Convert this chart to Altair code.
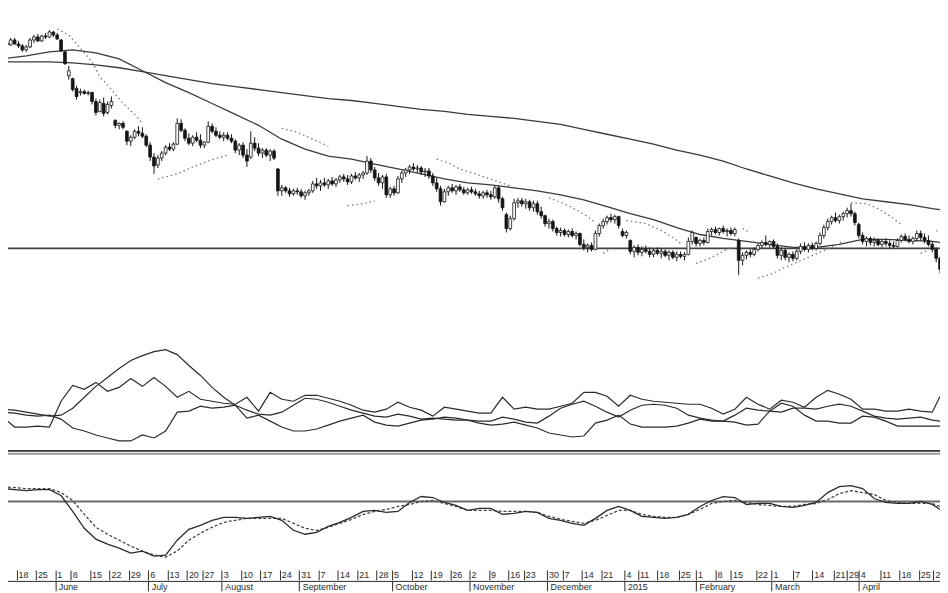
import altair as alt
import pandas as pd

# ---------------- price candles (one per trading day) ----------------
opens = [
    45.6, 45.9, 45.7, 46.2, 45.8, 45.6, 45.2, 45.5, 46.2, 46.5,
    46.1, 46.6, 46.5, 47.0, 46.7, 46.2, 45.0, 42.6, 42.3, 41.3,
    40.9, 41.0, 40.8, 40.9, 40.0, 39.0, 39.8, 38.9, 39.6, 38.1,
    37.6, 37.8, 37.0, 36.0, 36.4, 37.0, 36.8, 36.5, 35.6, 34.4,
    33.6, 34.3, 34.8, 35.4, 35.2, 35.7, 37.8, 37.1, 36.3, 35.8,
    36.4, 36.1, 35.6, 35.9, 37.5, 37.0, 36.6, 36.4, 36.6, 36.3,
    36.0, 35.1, 35.6, 34.6, 34.4, 35.8, 35.3, 34.8, 35.1, 34.6,
    35.0, 33.2, 31.0, 31.3, 31.0, 30.7, 31.0, 30.9, 30.5, 30.8,
    31.0, 31.7, 31.5, 31.8, 31.6, 32.0, 31.7, 32.1, 32.4, 32.2,
    31.9, 32.5, 32.3, 32.6, 32.8, 34.0, 33.1, 32.3, 31.8, 32.4,
    30.6, 31.2, 30.8, 32.2, 32.8, 33.1, 33.4, 33.2, 33.3, 32.9,
    33.0, 32.5, 31.8, 31.2, 29.9, 30.9, 31.3, 31.0, 31.4, 31.1,
    30.8, 31.1, 30.9, 30.7, 30.5, 30.8, 30.6, 30.4, 31.3, 30.2,
    28.6, 27.2, 28.2, 29.8, 30.0, 29.7, 29.9, 29.3, 29.7, 28.9,
    28.5, 27.7, 27.9, 27.2, 26.8, 27.0, 26.6, 26.9, 26.5, 26.7,
    25.6, 25.3, 25.5, 25.1, 26.7, 27.5, 27.9, 28.3, 28.1, 28.4,
    26.9, 26.5, 26.0, 24.9, 25.3, 24.8, 25.1, 24.9, 24.6, 25.0,
    24.7, 24.9, 24.5, 24.8, 24.3, 24.6, 24.4, 24.6, 25.9, 26.3,
    25.7, 26.0, 25.8, 26.9, 27.1, 26.8, 27.2, 26.9, 27.0, 26.7,
    26.0, 24.0, 24.5, 24.8, 24.6, 25.1, 25.5, 25.8, 25.6, 25.9,
    25.4, 24.5, 25.0, 24.3, 24.6, 24.2, 24.9, 25.4, 25.1, 25.5,
    25.2, 25.7, 26.5, 27.3, 27.9, 28.3, 28.0, 28.4, 28.7, 29.0,
    28.7, 27.6, 26.5, 25.9, 26.2, 25.8, 26.0, 25.6, 25.9, 25.7,
    25.5, 25.4, 26.0, 26.4, 26.1, 25.9, 26.2, 26.7, 26.3, 26.0,
    25.6, 25.1, 24.2,
]
highs = [
    46.2, 46.3, 46.4, 46.4, 46.1, 45.8, 45.7, 46.4, 46.7, 46.8,
    46.7, 46.9, 47.2, 47.1, 46.9, 46.3, 45.1, 43.6, 42.4, 41.6,
    41.3, 41.2, 41.1, 41.0, 40.3, 40.2, 40.4, 40.0, 40.5, 38.2,
    37.9, 38.0, 37.1, 36.6, 37.2, 37.5, 37.4, 36.7, 35.9, 34.8,
    34.6, 35.0, 35.6, 35.8, 35.9, 38.3, 38.2, 37.3, 36.8, 36.6,
    36.9, 36.7, 36.0, 38.0, 37.8, 37.4, 37.0, 36.9, 36.9, 36.7,
    36.2, 35.8, 35.9, 35.2, 37.0, 36.4, 35.8, 35.3, 35.3, 35.2,
    35.2, 33.3, 31.6, 31.5, 31.3, 31.2, 31.3, 31.2, 31.0, 31.2,
    32.0, 32.3, 32.1, 32.3, 32.2, 32.4, 32.3, 32.6, 32.7, 32.6,
    32.7, 32.9, 32.8, 33.0, 34.5, 34.3, 33.4, 32.8, 32.6, 32.7,
    31.4, 31.5, 32.5, 33.0, 33.3, 33.6, 33.8, 33.6, 33.5, 33.3,
    33.3, 32.8, 32.3, 31.5, 31.2, 31.5, 31.7, 31.6, 31.7, 31.4,
    31.3, 31.4, 31.2, 31.0, 31.0, 31.1, 31.0, 31.5, 31.5, 30.4,
    28.8, 28.5, 30.2, 30.3, 30.3, 30.2, 30.1, 30.0, 30.0, 29.4,
    28.6, 28.2, 28.1, 27.4, 27.3, 27.2, 27.1, 27.2, 26.9, 26.8,
    26.1, 25.7, 25.8, 27.0, 27.7, 28.2, 28.5, 28.7, 28.6, 28.5,
    27.2, 27.0, 26.1, 25.5, 25.6, 25.4, 25.5, 25.3, 25.2, 25.3,
    25.2, 25.1, 25.0, 25.0, 24.9, 24.9, 24.8, 26.3, 27.0, 26.4,
    26.2, 26.3, 27.2, 27.3, 27.4, 27.3, 27.5, 27.2, 27.3, 27.3,
    26.2, 24.8, 25.0, 25.1, 25.3, 25.7, 26.0, 26.5, 26.0, 26.1,
    25.7, 25.3, 25.2, 24.8, 24.9, 25.1, 25.7, 25.8, 25.7, 25.8,
    25.9, 26.8, 27.6, 28.2, 28.5, 28.8, 28.6, 28.9, 29.3, 29.7,
    28.9, 27.8, 26.8, 26.4, 26.4, 26.3, 26.2, 26.1, 26.2, 26.0,
    25.9, 26.2, 26.6, 26.7, 26.5, 26.4, 27.0, 27.0, 26.7, 26.5,
    25.9, 25.3, 24.4,
]
lows = [
    45.3, 45.5, 45.6, 45.7, 45.4, 45.0, 45.0, 45.4, 45.9, 46.0,
    46.0, 46.3, 46.4, 46.5, 46.2, 45.0, 43.7, 42.2, 41.0, 40.2,
    40.6, 40.7, 40.6, 39.7, 38.6, 38.9, 38.5, 38.7, 39.3, 37.3,
    37.2, 37.2, 35.6, 35.5, 36.2, 36.5, 36.3, 35.4, 34.0, 32.7,
    33.3, 34.0, 34.6, 35.0, 35.0, 35.6, 36.9, 36.0, 35.6, 35.5,
    35.9, 35.3, 35.3, 35.8, 36.8, 36.4, 36.2, 36.0, 36.1, 35.8,
    34.8, 34.6, 34.3, 33.4, 34.2, 35.0, 34.5, 34.3, 34.4, 34.0,
    34.1, 30.5, 30.5, 30.8, 30.4, 30.5, 30.6, 30.3, 30.1, 30.5,
    30.8, 31.2, 31.0, 31.4, 31.2, 31.5, 31.4, 31.8, 31.9, 31.6,
    31.7, 32.1, 31.9, 32.2, 32.6, 32.8, 32.0, 31.5, 31.2, 30.3,
    30.3, 30.5, 30.7, 31.8, 32.4, 32.7, 33.0, 32.8, 32.6, 32.4,
    32.2, 31.5, 30.9, 29.5, 29.8, 30.5, 30.8, 30.6, 30.9, 30.6,
    30.6, 30.7, 30.5, 30.2, 30.2, 30.3, 30.1, 30.2, 29.8, 29.0,
    26.8, 27.0, 28.0, 29.3, 29.4, 29.2, 29.0, 28.9, 28.6, 28.2,
    27.4, 27.2, 26.9, 26.5, 26.4, 26.4, 26.3, 26.3, 26.1, 25.4,
    25.0, 24.8, 24.9, 25.0, 26.4, 27.2, 27.6, 27.8, 27.7, 27.2,
    26.3, 26.2, 24.6, 24.3, 24.5, 24.4, 24.7, 24.3, 24.3, 24.5,
    24.2, 24.3, 24.0, 24.1, 23.9, 24.2, 24.0, 24.5, 25.6, 25.4,
    25.4, 25.5, 25.7, 26.5, 26.6, 26.5, 26.7, 26.4, 26.5, 26.4,
    22.5, 23.5, 24.1, 24.3, 24.4, 24.9, 25.2, 25.4, 25.3, 25.2,
    24.2, 24.0, 24.0, 23.8, 23.9, 24.0, 24.6, 24.9, 24.8, 25.0,
    25.0, 25.5, 26.2, 27.0, 27.6, 27.8, 27.7, 28.0, 28.3, 28.4,
    27.5, 26.2, 25.6, 25.4, 25.5, 25.4, 25.4, 25.3, 25.4, 25.2,
    25.2, 25.3, 25.8, 25.9, 25.7, 25.6, 25.9, 26.0, 25.7, 25.4,
    24.8, 23.8, 22.7,
]
closes = [
    45.9, 45.7, 46.2, 45.8, 45.6, 45.2, 45.5, 46.2, 46.5, 46.1,
    46.6, 46.5, 47.0, 46.7, 46.3, 45.1, 43.8, 43.1, 41.2, 40.5,
    41.0, 40.8, 40.9, 40.0, 38.9, 39.9, 38.8, 39.7, 40.0, 37.6,
    37.8, 37.4, 36.0, 36.4, 37.0, 36.8, 36.5, 35.6, 34.4, 33.5,
    34.3, 34.8, 35.4, 35.2, 35.7, 37.8, 37.1, 36.3, 35.8, 36.4,
    36.1, 35.6, 35.9, 37.5, 37.0, 36.6, 36.4, 36.6, 36.3, 36.0,
    35.1, 35.6, 34.6, 34.0, 35.8, 35.3, 34.8, 35.1, 34.6, 35.0,
    34.3, 31.0, 31.3, 31.0, 30.7, 31.0, 30.9, 30.5, 30.8, 31.0,
    31.7, 31.5, 31.8, 31.6, 32.0, 31.7, 32.1, 32.4, 32.2, 31.9,
    32.5, 32.3, 32.6, 32.8, 34.0, 33.1, 32.3, 31.8, 32.4, 30.6,
    31.2, 30.8, 32.2, 32.8, 33.1, 33.4, 33.2, 33.3, 32.9, 33.0,
    32.5, 31.8, 31.2, 29.9, 30.9, 31.3, 31.0, 31.4, 31.1, 30.8,
    31.1, 30.9, 30.7, 30.5, 30.8, 30.6, 30.4, 31.3, 30.2, 29.3,
    27.2, 28.2, 29.8, 30.0, 29.7, 29.9, 29.3, 29.7, 28.9, 28.5,
    27.7, 27.9, 27.2, 26.8, 27.0, 26.6, 26.9, 26.5, 26.7, 25.6,
    25.3, 25.5, 25.1, 26.7, 27.5, 27.9, 28.3, 28.1, 28.4, 27.5,
    26.5, 26.8, 24.9, 25.3, 24.8, 25.1, 24.9, 24.6, 25.0, 24.7,
    24.9, 24.5, 24.8, 24.3, 24.6, 24.4, 24.6, 25.9, 26.8, 25.7,
    26.0, 25.8, 26.9, 27.1, 26.8, 27.2, 26.9, 27.0, 26.7, 27.1,
    24.0, 24.5, 24.8, 24.6, 25.1, 25.5, 25.8, 25.6, 25.9, 25.4,
    24.5, 25.0, 24.3, 24.6, 24.2, 24.9, 25.4, 25.1, 25.5, 25.2,
    25.7, 26.5, 27.3, 27.9, 28.3, 28.0, 28.4, 28.7, 29.0, 28.7,
    27.8, 26.5, 25.9, 26.2, 25.8, 26.0, 25.6, 25.9, 25.7, 25.5,
    25.4, 26.0, 26.4, 26.1, 25.9, 26.2, 26.7, 26.3, 26.0, 25.6,
    25.1, 24.2, 23.1,
]

# ---------------- moving averages (every 6th trading day) ----------------
ma_days = [0, 6, 12, 18, 24, 30, 36, 42, 48, 54, 60, 66, 72, 78, 84, 90, 96, 102,
           108, 114, 120, 126, 132, 138, 144, 150, 156, 162, 168, 174, 180, 186,
           192, 198, 204, 210, 216, 222, 228, 234, 240, 242]
ma_short = [44.3, 44.6, 45.0, 45.2, 44.9, 44.3, 43.1, 41.9, 40.9, 39.8, 38.7, 37.6,
            36.2, 35.2, 34.5, 34.2, 33.7, 33.2, 32.7, 32.2, 31.8, 31.6, 31.3, 31.0,
            30.6, 30.1, 29.4, 28.7, 28.1, 27.3, 26.6, 26.2, 25.9, 25.6, 25.3, 25.3,
            25.6, 26.1, 26.1, 26.0, 25.9, 25.8]
ma_long = [44.0, 44.0, 44.0, 43.9, 43.7, 43.4, 43.0, 42.6, 42.2, 41.8, 41.5, 41.2,
           40.9, 40.6, 40.3, 40.1, 39.8, 39.5, 39.2, 39.0, 38.7, 38.5, 38.3, 38.0,
           37.7, 37.2, 36.7, 36.2, 35.7, 35.1, 34.6, 34.0, 33.2, 32.5, 31.8, 31.2,
           30.7, 30.2, 29.9, 29.6, 29.2, 29.1]
support_level = [25.2]

# ---------------- parabolic SAR runs ----------------
sar_seg = [1]*9 + [2]*5 + [3]*4 + [4]*3 + [5]*7 + [6]*5 + [7]*2 + [8]*5 + [9]*4 + [10]*2 + [11]*8 + [12]*5 + [13]*2 + [14]*2
sar_day = [14, 17, 19, 23, 25, 28, 31, 34, 36,
           40, 45, 49, 53, 58,
           72, 76, 80, 84,
           89, 93, 96,
           112, 115, 118, 122, 125, 128, 131,
           141, 145, 148, 151, 153,
           155, 157,
           161, 166, 170, 173, 175,
           179, 182, 185, 188,
           191, 193,
           195, 199, 202, 205, 208, 212, 215, 217,
           219, 223, 226, 229, 232,
           237, 239,
           241, 242]
sar_val = [47.3, 46.7, 45.8, 44.0, 42.5, 41.2, 39.8, 38.7, 37.8,
           32.2, 32.7, 33.4, 34.0, 34.6,
           37.3, 36.9, 36.2, 35.5,
           29.5, 29.7, 30.0,
           34.2, 33.8, 33.2, 32.7, 32.3, 31.9, 31.5,
           30.3, 29.7, 29.1, 28.4, 27.8,
           24.7, 25.2,
           28.0, 27.7, 27.0, 26.3, 25.7,
           23.7, 24.1, 24.7, 25.3,
           27.2, 26.8,
           22.2, 22.7, 23.3, 23.8, 24.3, 25.0, 25.5, 26.0,
           29.8, 29.7, 29.2, 28.5, 27.6,
           24.7, 25.0,
           27.0, 26.8]

# ---------------- DMI (every 3rd trading day) ----------------
ind_days = list(range(0, 241, 3)) + [242]
adx = [21, 20.5, 19.5, 18.5, 17.5, 18, 21.5, 27, 32.5, 37,
       41.5, 45.5, 48, 50, 51, 48.5, 43, 38, 32, 27,
       23, 20.5, 18.5, 18, 19.5, 23, 26.5, 26, 24.5, 22.5,
       20.5, 19, 17.5, 17, 18.5, 17.5, 16, 16.5, 16, 15.5,
       15.5, 15, 15, 17, 16, 14.5, 14, 17.5, 21.5, 23.5,
       25, 22.5, 19.5, 17, 20.5, 23, 23.5, 23, 21.5, 18,
       16.5, 15.5, 15, 18, 21.5, 20.5, 20, 19.5, 21.5, 21.5,
       21, 22.5, 23.5, 22.5, 20, 17.5, 16.5, 16, 16.5, 17,
       15.5, 15]
plus_di = [17, 12, 12, 12.5, 12, 25, 33, 31, 34.5, 30,
           32, 36.5, 32.5, 37, 32.5, 27, 30, 26, 25, 24,
           23.5, 27, 20, 29.5, 26, 25, 28, 28, 26.5, 25,
           23, 20.5, 19.5, 21, 24.5, 22, 20.5, 17.5, 22, 21,
           20, 19, 19, 27, 21, 22, 21, 21, 22.5, 24,
           29.5, 29.5, 27.5, 22.5, 28, 26, 25, 24.5, 24, 23.5,
           23.5, 21.5, 18.5, 21, 27, 23.5, 21, 25.5, 24.5, 22,
           27, 30.5, 28.5, 26, 21, 21, 20, 20, 21, 20,
           19.5, 27.5]
minus_di = [19.5, 19, 18, 17.5, 18, 16, 11.5, 10, 8, 6.5,
            5, 5, 8, 6.5, 10, 19.5, 20, 22.5, 21.5, 22,
            23, 16.5, 18, 15, 12, 10, 10, 11, 13, 15,
            16.5, 18, 14.5, 13, 12.5, 14, 15.5, 16, 17, 16.5,
            15.5, 14, 13, 13.5, 14.5, 13, 11.5, 9, 8, 7,
            7.5, 14, 15.5, 18, 13.5, 12, 12, 12, 12.5, 14,
            16, 15, 15, 14.5, 13, 13.5, 20, 24, 22.5, 18,
            15, 15, 14, 14, 17.5, 17, 15, 12.5, 12.5, 12.5,
            12.5, 12.5]

# ---------------- MACD (every 3rd trading day) ----------------
macd = [0.65, 0.6, 0.55, 0.6, 0.6, 0.3, -0.5, -1.35, -1.9, -2.15,
        -2.35, -2.6, -2.5, -2.75, -2.7, -1.95, -1.4, -1.2, -0.95, -0.8,
        -0.8, -0.85, -0.8, -0.75, -0.95, -1.45, -1.65, -1.55, -1.25, -1.05,
        -0.8, -0.5, -0.45, -0.55, -0.5, -0.05, 0.25, 0.2, -0.05, -0.2,
        -0.45, -0.35, -0.35, -0.65, -0.6, -0.5, -0.55, -0.85, -0.95, -1.1,
        -1.2, -0.85, -0.45, -0.25, -0.45, -0.75, -0.8, -0.85, -0.8, -0.65,
        -0.25, 0.05, 0.25, 0.2, -0.15, -0.1, -0.1, -0.25, -0.3, -0.2,
        -0.05, 0.45, 0.75, 0.8, 0.65, 0.15, -0.05, -0.1, -0.1, 0,
        -0.15, -0.4]
signal = [0.75, 0.7, 0.65, 0.65, 0.65, 0.45, 0.05, -0.65, -1.3, -1.65,
          -1.95, -2.25, -2.5, -2.7, -2.8, -2.5, -1.95, -1.6, -1.3, -1.05,
          -0.95, -0.85, -0.85, -0.85, -0.85, -1.1, -1.35, -1.45, -1.3, -1.1,
          -0.9, -0.65, -0.5, -0.4, -0.25, -0.15, 0, 0.05, -0.1, -0.25,
          -0.45, -0.45, -0.45, -0.5, -0.5, -0.5, -0.55, -0.75, -0.9, -1.0,
          -1.1, -0.95, -0.7, -0.45, -0.45, -0.65, -0.75, -0.8, -0.8, -0.65,
          -0.4, -0.1, 0, 0.05, -0.05, -0.15, -0.2, -0.25, -0.25, -0.15,
          -0.1, 0.1, 0.4, 0.55, 0.45, 0.35, 0.05, -0.05, -0.1, -0.1,
          -0.1, -0.25]
macd_zero = [0]
macd_top = [2.4]
dmi_base = [0]

# ---------------- date axis ----------------
week_ticks = [-0.6, 3.5, 8.5, 13.5, 17.5, 22.5, 27.5, 32.5, 37.5, 42.5, 47.5, 51.5,
              56.5, 61.5, 66.5, 71.5, 76.5, 81.5, 86.5, 91.5, 96.5, 100.5, 105.5,
              110.5, 115.5, 120.5, 125.5, 130.5, 134.5, 140.5, 144.5, 149.5, 154.5,
              160.5, 164, 169, 174.5, 179, 184, 188, 194.5, 198.5, 204, 209, 214.5,
              218, 221, 226.5, 231.5, 236.5, 240.3]
week_labels = ['11', '18', '25', '1', '8', '15', '22', '29', '6', '13', '20', '27',
               '3', '10', '17', '24', '31', '7', '14', '21', '28', '5', '12', '19',
               '26', '2', '9', '16', '23', '30', '7', '14', '21', '4', '11', '18',
               '25', '1', '8', '15', '22', '1', '7', '14', '21', '29', '4', '11',
               '18', '25', '2']
month_ticks = [13.5, 37.5, 56.5, 76.5, 100.5, 120.5, 140.5, 160.5, 179, 198.5, 221]
month_labels = ['June', 'July', 'August', 'September', 'October', 'November',
                'December', '2015', 'February', 'March', 'April']

# ---------------- build ----------------
W = 948
INK = '#2b2b2b'
FONT = 'Liberation Sans'
xs = alt.Scale(domain=[-0.5, 242.5], nice=False, zero=False, padding=0)


def xenc(axis=None):
    return alt.X('day:Q', scale=xs, axis=axis, title='')


def lookup_expr(vals, labels):
    arr_l = ','.join("'" + s + "'" for s in labels)
    arr_v = ','.join(repr(v) for v in vals)
    return '[' + arr_l + '][indexof([' + arr_v + '], datum.value)]'


candle_df = pd.DataFrame({'day': list(range(len(closes))), 'open': opens,
                          'high': highs, 'low': lows, 'close': closes})
ma_df = pd.DataFrame({'day': ma_days, 'short': ma_short, 'long': ma_long})
sar_df = pd.DataFrame({'day': sar_day, 'val': sar_val, 'seg': sar_seg})
dmi_df = pd.DataFrame({'day': ind_days, 'ADX': adx, 'PDI': plus_di, 'MDI': minus_di}).melt(
    id_vars='day', var_name='series', value_name='val')
macd_df = pd.DataFrame({'day': ind_days, 'macd': macd, 'signal': signal})

ps = alt.Scale(domain=[20, 50], nice=False, zero=False)
support = alt.Chart(pd.DataFrame({'lvl': support_level})).mark_rule(
    color='#444444', strokeWidth=1.6).encode(y=alt.Y('lvl:Q', scale=ps, axis=None))
ma_l = alt.Chart(ma_df).mark_line(color='#3a3a3a', strokeWidth=1.3).encode(
    x=xenc(), y=alt.Y('long:Q', scale=ps, axis=None))
ma_s = alt.Chart(ma_df).mark_line(color='#3a3a3a', strokeWidth=1.3).encode(
    x=xenc(), y=alt.Y('short:Q', scale=ps, axis=None))
sar = alt.Chart(sar_df).mark_line(color='#777777', strokeWidth=1.3, strokeDash=[1.5, 3]).encode(
    x=xenc(), y=alt.Y('val:Q', scale=ps, axis=None), detail='seg:N')
wicks = alt.Chart(candle_df).mark_rule(color='#151515', strokeWidth=1).encode(
    x=xenc(), y=alt.Y('low:Q', scale=ps, axis=None), y2='high:Q')
bodies = alt.Chart(candle_df).mark_bar(orient='vertical', size=2.8, stroke='#151515',
                                       strokeWidth=0.8).encode(
    x=xenc(), y=alt.Y('open:Q', scale=ps, axis=None), y2='close:Q',
    fill=alt.condition('datum.close > datum.open', alt.value('white'), alt.value('#151515')))
price = alt.layer(support, ma_l, ma_s, sar, wicks, bodies).properties(width=W, height=300)

ds = alt.Scale(domain=[0, 76], nice=False, zero=False)
dmi_lines = alt.Chart(dmi_df).mark_line(color=INK, strokeWidth=1.2).encode(
    x=xenc(), y=alt.Y('val:Q', scale=ds, axis=None), detail='series:N')
dmi_sep = alt.Chart(pd.DataFrame({'v': dmi_base})).mark_rule(color='#333333', strokeWidth=2).encode(
    y=alt.Y('v:Q', scale=ds, axis=None))
dmi = alt.layer(dmi_lines, dmi_sep).properties(width=W, height=152)

ms = alt.Scale(domain=[-3.45, 2.55], nice=False, zero=False)
week_axis = alt.Axis(values=week_ticks, labelExpr=lookup_expr(week_ticks, week_labels),
                     orient='bottom', domain=False, grid=False, tickSize=10, tickColor=INK,
                     tickWidth=1, labelAlign='left', labelBaseline='middle', labelOffset=1.5,
                     labelPadding=-5, labelFontSize=9, labelFont=FONT, labelColor=INK,
                     labelOverlap=False, labelFlush=False, labelBound=False)
month_axis = alt.Axis(values=month_ticks, labelExpr=lookup_expr(month_ticks, month_labels),
                      orient='bottom', offset=11, domain=True, domainColor=INK, domainWidth=1,
                      grid=False, tickSize=10, tickColor=INK, tickWidth=1, labelAlign='left',
                      labelBaseline='middle', labelOffset=3, labelPadding=-4, labelFontSize=9,
                      labelFont=FONT, labelColor=INK, labelOverlap=False, labelFlush=False,
                      labelBound=False)
top_sep = alt.Chart(pd.DataFrame({'v': macd_top})).mark_rule(color='#9a9a9a', strokeWidth=2).encode(
    y=alt.Y('v:Q', scale=ms, axis=None))
zero_line = alt.Chart(pd.DataFrame({'v': macd_zero})).mark_rule(color='#6a6a6a', strokeWidth=2).encode(
    y=alt.Y('v:Q', scale=ms, axis=None))
macd_line = alt.Chart(macd_df).mark_line(color=INK, strokeWidth=1.3).encode(
    x=xenc(week_axis), y=alt.Y('macd:Q', scale=ms, axis=None))
signal_line = alt.Chart(macd_df).mark_line(color='#444444', strokeWidth=1.3,
                                           strokeDash=[3, 2]).encode(
    x=xenc(month_axis), y=alt.Y('signal:Q', scale=ms, axis=None))
macd_panel = alt.layer(top_sep, zero_line, signal_line, macd_line).resolve_axis(
    x='independent').properties(width=W, height=120)

chart = alt.vconcat(price, dmi, macd_panel, spacing=0, bounds='flush').properties(
    padding={'left': -8, 'top': -8, 'right': -3, 'bottom': 0}
).configure(background='white').configure_view(stroke=None)

chart.save('out.html', embed_options={'renderer': 'svg', 'actions': False})
